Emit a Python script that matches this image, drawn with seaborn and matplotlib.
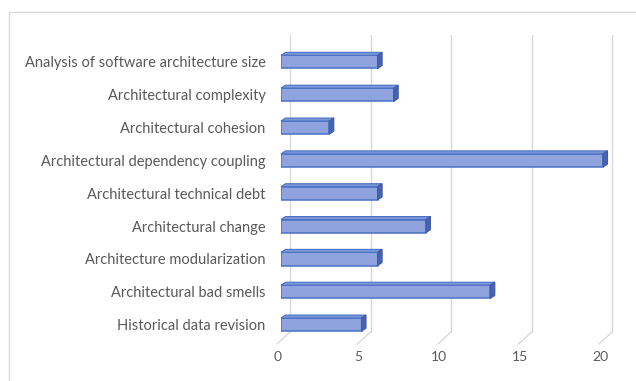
import numpy as np
import pandas as pd
import matplotlib
matplotlib.use("Agg")
import matplotlib.pyplot as plt
import matplotlib.transforms as mtransforms
from matplotlib.patches import Polygon
from matplotlib.lines import Line2D
import seaborn as sns

categories = [
    "Analysis of software architecture size",
    "Architectural complexity",
    "Architectural cohesion",
    "Architectural dependency coupling",
    "Architectural technical debt",
    "Architectural change",
    "Architecture modularization",
    "Architectural bad smells",
    "Historical data revision",
]
counts = [6, 7, 3, 20, 6, 9, 6, 13, 5]
x_ticks = [0, 5, 10, 15, 20]

df = pd.DataFrame({"topic": categories, "count": counts})

sns.set_theme(style="white")
plt.rcParams["font.family"] = ["Lato", "DejaVu Sans"]

W, H = 636, 381
fig = plt.figure(figsize=(W / 100, H / 100), dpi=100)
ident = mtransforms.IdentityTransform()

# plot area = front plane of the bars (pixel layout, top-left origin)
x0_px, x1_px = 281, 627
y_top_px, y_bot_px = 35, 345
ax = fig.add_axes([x0_px / W, 1 - y_bot_px / H,
                   (x1_px - x0_px) / W, (y_bot_px - y_top_px) / H])
ax.set_facecolor("none")

sns.barplot(data=df, y="topic", x="count", orient="h", ax=ax,
            color="#8FA4DE", edgecolor="#4A72C4", linewidth=1.1,
            width=0.40, saturation=1, zorder=3)

ax.set_xlim(0, (x1_px - x0_px) / 16.1)
ax.set_ylim(8.62, -0.82)
ax.set_xlabel("")
ax.set_ylabel("")
for s in ax.spines.values():
    s.set_visible(False)

ax.tick_params(axis="y", length=0, pad=11, labelsize=10.5, labelcolor="#595959")
ax.set_xticks([])

fig.canvas.draw()

def fy(y_px):
    # pixel row measured from the top -> display y
    return H - y_px

# back-wall gridlines, floor diagonals and value labels (behind the axes)
grid_col = "#D9D9D9"
for v in x_ticks:
    xd = ax.transData.transform((v, 0))[0]
    fig.add_artist(Line2D([xd + 9, xd + 9], [fy(35), fy(332)], transform=ident,
                          color=grid_col, lw=1.0, zorder=-1))
    fig.add_artist(Line2D([xd + 9, xd - 4], [fy(332), fy(344)], transform=ident,
                          color=grid_col, lw=1.0, zorder=-1))
    fig.text(xd - 3, fy(357), str(v), transform=ident, ha="center", va="center",
             fontsize=10, color="#595959")

# depth faces (top and right side) for each bar
dx, dy = 4.5, 3.0
for bar in ax.patches:
    x0, y0 = bar.get_x(), bar.get_y()
    w, h = bar.get_width(), bar.get_height()
    left, ya = ax.transData.transform((x0, y0))
    right, yb = ax.transData.transform((x0 + w, y0 + h))
    bot, top = min(ya, yb), max(ya, yb)
    fig.add_artist(Polygon([(left, top), (right, top), (right + dx, top + dy), (left + dx, top + dy)],
                           closed=True, transform=ident,
                           facecolor="#7D96D9", edgecolor="#4A72C4", lw=0.8, zorder=2))
    fig.add_artist(Polygon([(right, bot), (right + dx, bot + dy), (right + dx, top + dy), (right, top)],
                           closed=True, transform=ident,
                           facecolor="#4A63B0", edgecolor="#3F5BA6", lw=0.8, zorder=2))

# outer chart frame
fig.add_artist(Line2D([9, W], [fy(12), fy(12)], transform=ident, color=grid_col, lw=1.0))
fig.add_artist(Line2D([9, 9], [fy(12), 0], transform=ident, color=grid_col, lw=1.0))

fig.savefig("out.png", dpi=100, facecolor="white")
